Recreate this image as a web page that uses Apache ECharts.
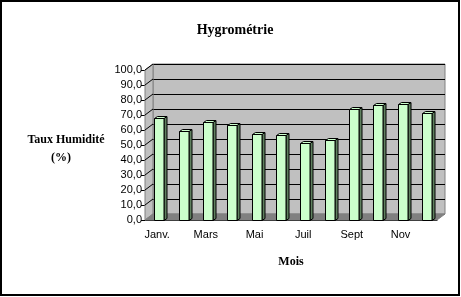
<!DOCTYPE html>
<html>
	<head>
		<meta charset="utf-8">
		<title></title>
		<script src="https://cdn.jsdelivr.net/npm/echarts@6/dist/echarts.min.js"></script>
		<style>
			body {margin: 0;}
		</style>
	</head>
	<body>
		<div id="my" style="width: 461px;height:297px;"></div>

		<script>
			var myChart = echarts.init(document.getElementById('my'));

			// données
			var mois = ['Janv.', 'Fév.', 'Mars', 'Avril', 'Mai', 'Juin', 'Juil', 'Août', 'Sept', 'Oct', 'Nov', 'Déc.'];
			var humidite = [68, 59.5, 65.5, 63.5, 57.5, 57, 51.5, 53.5, 74, 77, 77.5, 71.5];
			var graduations = [0, 10, 20, 30, 40, 50, 60, 70, 80, 90, 100];

			// profondeur du mur du fond (effet 3D)
			var DX = 8, DY = -6;
			// profondeur des barres
			var BX = 3, BY = -2;

			function bande(api) {
				return api.size([1, 0])[0];
			}

			var option = {
				animation: false,
				title: [
					{
						text: 'Hygrométrie',
						left: 230,
						top: 18,
						textAlign: 'center',
						textStyle: {fontFamily: 'Liberation Serif', fontSize: 14, fontWeight: 'bold', color: '#000'}
					},
					{
						text: 'Taux Humidité',
						left: 61,
						top: 129,
						textAlign: 'center',
						textStyle: {fontFamily: 'Liberation Serif', fontSize: 12, fontWeight: 'bold', color: '#000'}
					},
					{
						text: '(%)',
						left: 56,
						top: 147,
						textAlign: 'center',
						textStyle: {fontFamily: 'Liberation Serif', fontSize: 12, fontWeight: 'bold', color: '#000'}
					}
				],
				graphic: [{
					type: 'rect',
					shape: {x: 1, y: 1, width: 458, height: 294},
					style: {fill: null, stroke: '#000', lineWidth: 2},
					silent: true
				}],
				grid: [
					// mur du fond
					{left: 145 + DX, right: 24 - DX, top: 70 + DY, bottom: 77 - DY,
						show: true, backgroundColor: '#c0c0c0', borderColor: '#808080', borderWidth: 1},
					// plan avant
					{left: 145, right: 24, top: 70, bottom: 77}
				],
				xAxis: [
					{gridIndex: 0, type: 'category', data: mois, show: false},
					{
						gridIndex: 1,
						type: 'category',
						data: mois,
						name: 'Mois',
						nameLocation: 'middle',
						nameGap: 36,
						nameTextStyle: {fontFamily: 'Liberation Serif', fontSize: 12, fontWeight: 'bold', color: '#000'},
						axisLine: {lineStyle: {color: '#000'}},
						axisTick: {lineStyle: {color: '#000'}, length: 4, interval: 0},
						axisLabel: {interval: 1, margin: 9, fontFamily: 'Liberation Sans', fontSize: 11, color: '#000'}
					}
				],
				yAxis: [
					{
						gridIndex: 0, type: 'value', min: 0, max: 100, interval: 10,
						axisLine: {show: false}, axisTick: {show: false}, axisLabel: {show: false},
						splitLine: {lineStyle: {color: '#000'}}
					},
					{
						gridIndex: 1, type: 'value', min: 0, max: 100, interval: 10,
						axisLine: {show: true, lineStyle: {color: '#000'}},
						axisTick: {show: true, length: 4, lineStyle: {color: '#000'}},
						axisLabel: {
							margin: 3, fontFamily: 'Liberation Sans', fontSize: 11, color: '#000',
							formatter: function (v) { return v.toFixed(1).replace('.', ','); }
						},
						splitLine: {show: false}
					}
				],
				series: [
					// mur de gauche + sol
					{
						type: 'custom',
						xAxisIndex: 1,
						yAxisIndex: 1,
						data: [0],
						z: 1,
						silent: true,
						renderItem: function (params, api) {
							var b = bande(api);
							var p0 = api.coord([0, 0]);
							var p1 = api.coord([0, 100]);
							var pn = api.coord([mois.length - 1, 0]);
							var xl = p0[0] - b / 2, xr = pn[0] + b / 2;
							var y0 = p0[1], y1 = p1[1];
							var children = [
								{type: 'polygon', shape: {points: [[xl, y0], [xl, y1], [xl + DX, y1 + DY], [xl + DX, y0 + DY]]},
									style: {fill: '#c0c0c0', stroke: '#808080', lineWidth: 1}},
								{type: 'polygon', shape: {points: [[xl, y0], [xr, y0], [xr + DX, y0 + DY], [xl + DX, y0 + DY]]},
									style: {fill: '#808080', stroke: '#808080', lineWidth: 1}}
							];
							graduations.forEach(function (g) {
								if (g === 0) return;
								var y = api.coord([0, g])[1];
								children.push({type: 'line', shape: {x1: xl, y1: y, x2: xl + DX, y2: y + DY}, style: {stroke: '#000', lineWidth: 1}});
							});
							return {type: 'group', children: children};
						}
					},
					// barres
					{
						type: 'custom',
						xAxisIndex: 1,
						yAxisIndex: 1,
						data: humidite.map(function (v, i) { return [i, v]; }),
						z: 3,
						renderItem: function (params, api) {
							var b = bande(api);
							var top = api.coord([api.value(0), api.value(1)]);
							var base = api.coord([api.value(0), 0]);
							var w = b * 0.41;
							var x0 = Math.round(top[0] + 2 - w / 2) + 0.5, x1 = Math.round(x0 + w);
							var yt = Math.round(top[1]) + 0.5, yb = Math.round(base[1]) + 0.5;
							return {
								type: 'group',
								children: [
									{type: 'polygon', shape: {points: [[x1, yt], [x1 + BX, yt + BY], [x1 + BX, yb + BY], [x1, yb]]},
										style: {fill: '#5f805f', stroke: '#000', lineWidth: 1}},
									{type: 'polygon', shape: {points: [[x0, yt], [x0 + BX, yt + BY], [x1 + BX, yt + BY], [x1, yt]]},
										style: {fill: '#ccffcc', stroke: '#000', lineWidth: 1}},
									{type: 'rect', shape: {x: x0, y: yt, width: x1 - x0, height: yb - yt},
										style: {fill: '#ccffcc', stroke: '#000', lineWidth: 1}}
								]
							};
						}
					}
				]
			};

			myChart.setOption(option);
		</script>
	</body>
</html>
